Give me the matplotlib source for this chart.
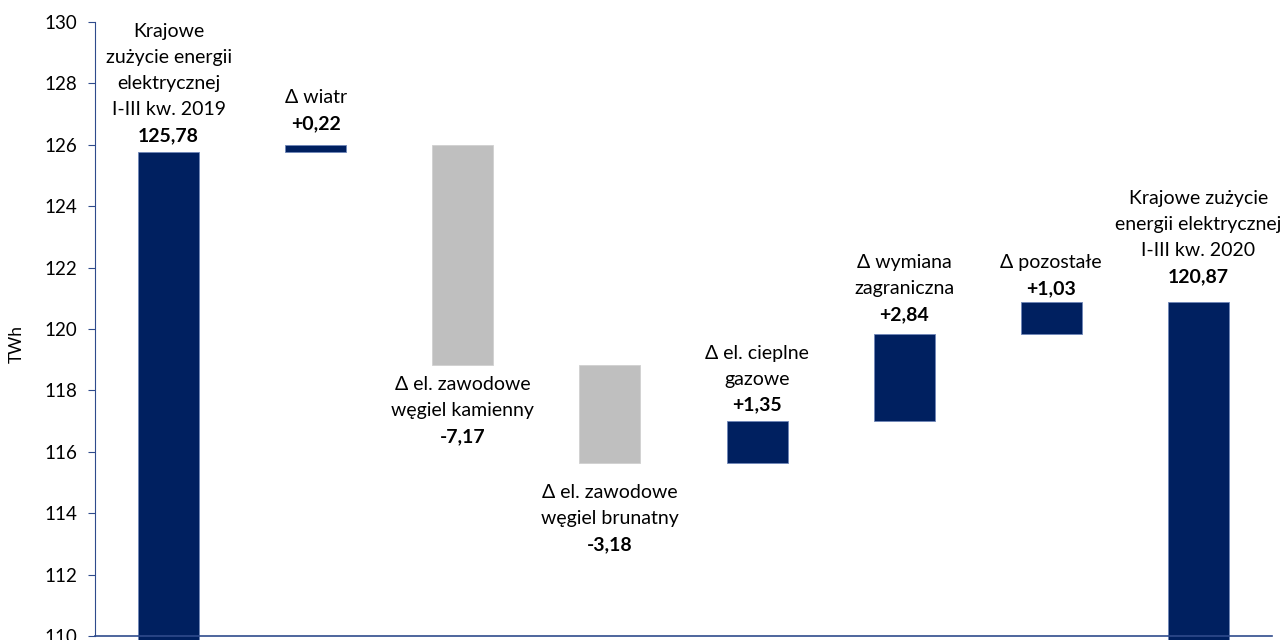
import numpy as np
import matplotlib
matplotlib.use("Agg")
import matplotlib.pyplot as plt

plt.rcParams["font.family"] = ["Lato", "DejaVu Sans"]

# data (TWh)
labels = [
    "Krajowe\nzużycie energii\nelektrycznej\nI-III kw. 2019",
    "Δ wiatr",
    "Δ el. zawodowe\nwęgiel kamienny",
    "Δ el. zawodowe\nwęgiel brunatny",
    "Δ el. cieplne\ngazowe",
    "Δ wymiana\nzagraniczna",
    "Δ pozostałe",
    "Krajowe zużycie\nenergii elektrycznej\nI-III kw. 2020",
]
start_total = 125.78
deltas = [0.22, -7.17, -3.18, 1.35, 2.84, 1.03]
end_total = 120.87
value_text = ["125,78", "+0,22", "-7,17", "-3,18", "+1,35", "+2,84", "+1,03", "120,87"]

NAVY, GRAY, AXC = "#002060", "#BFBFBF", "#2F4B8C"
# gap (px) between bar end and the nearest label line, per bar
label_gap = [16, 21, 20, 30, 16, 19, 14, 26]
LINE = 26  # px between label lines

# waterfall geometry
cum = start_total + np.cumsum(deltas)
prev = np.concatenate([[start_total], cum[:-1]])
lows = np.minimum(prev, cum)
highs = np.maximum(prev, cum)

fig = plt.figure(figsize=(12.8, 6.4), dpi=100)
ax = fig.add_axes([95 / 1280, -0.0417, 1177 / 1280, 1.0073])
ax.set_ylim(109, 130)
ax.set_xlim(-0.5, 7.5)

w = 0.415
x = np.arange(len(labels))
ax.bar(0, start_total, width=w, color=NAVY, edgecolor="#6f86b8", lw=0.6)
ax.bar(7, end_total, width=w, color=NAVY, edgecolor="#6f86b8", lw=0.6)
for i, (lo, hi, d) in enumerate(zip(lows, highs, deltas), start=1):
    c = NAVY if d > 0 else GRAY
    ec = "#6f86b8" if d > 0 else "#d0d0d0"
    ax.bar(i, hi - lo, bottom=lo, width=w, color=c, edgecolor=ec, lw=0.6)

tops = [start_total] + list(highs) + [end_total]
bots = [0] + list(lows) + [0]
signs = [1] + [1 if d > 0 else -1 for d in deltas] + [1]
fs = 14
px = 72 / 100  # points per pixel
for i in range(len(labels)):
    lines = labels[i].split("\n")
    g = label_gap[i]
    if signs[i] > 0:
        # value just above the bar, description lines above it
        ax.annotate(value_text[i], (x[i], tops[i]), xytext=(0, g * px), textcoords="offset points",
                    ha="center", va="center", fontsize=fs, fontweight="bold")
        for k, ln in enumerate(reversed(lines), start=1):
            ax.annotate(ln, (x[i], tops[i]), xytext=(0, (g + LINE * k) * px),
                        textcoords="offset points", ha="center", va="center", fontsize=fs)
    else:
        # description below the bar, value under it
        for k, ln in enumerate(lines):
            ax.annotate(ln, (x[i], bots[i]), xytext=(0, -(g + LINE * k) * px),
                        textcoords="offset points", ha="center", va="center", fontsize=fs)
        ax.annotate(value_text[i], (x[i], bots[i]), xytext=(0, -(g + LINE * len(lines)) * px),
                    textcoords="offset points", ha="center", va="center", fontsize=fs,
                    fontweight="bold")

ax.set_yticks(np.arange(110, 131, 2))
ax.tick_params(axis="y", direction="out", length=5, color=AXC, labelsize=13.5, pad=8)
ax.set_xticks([])
for s in ("top", "right"):
    ax.spines[s].set_visible(False)
ax.spines["left"].set_color(AXC)
ax.spines["left"].set_bounds(110, 130)
ax.spines["bottom"].set_color(AXC)
ax.spines["bottom"].set_position(("data", 110))
ax.spines["bottom"].set_linewidth(1.2)
ax.set_ylabel("TWh", fontsize=12.5, labelpad=14)

fig.savefig("out.png", dpi=100)
